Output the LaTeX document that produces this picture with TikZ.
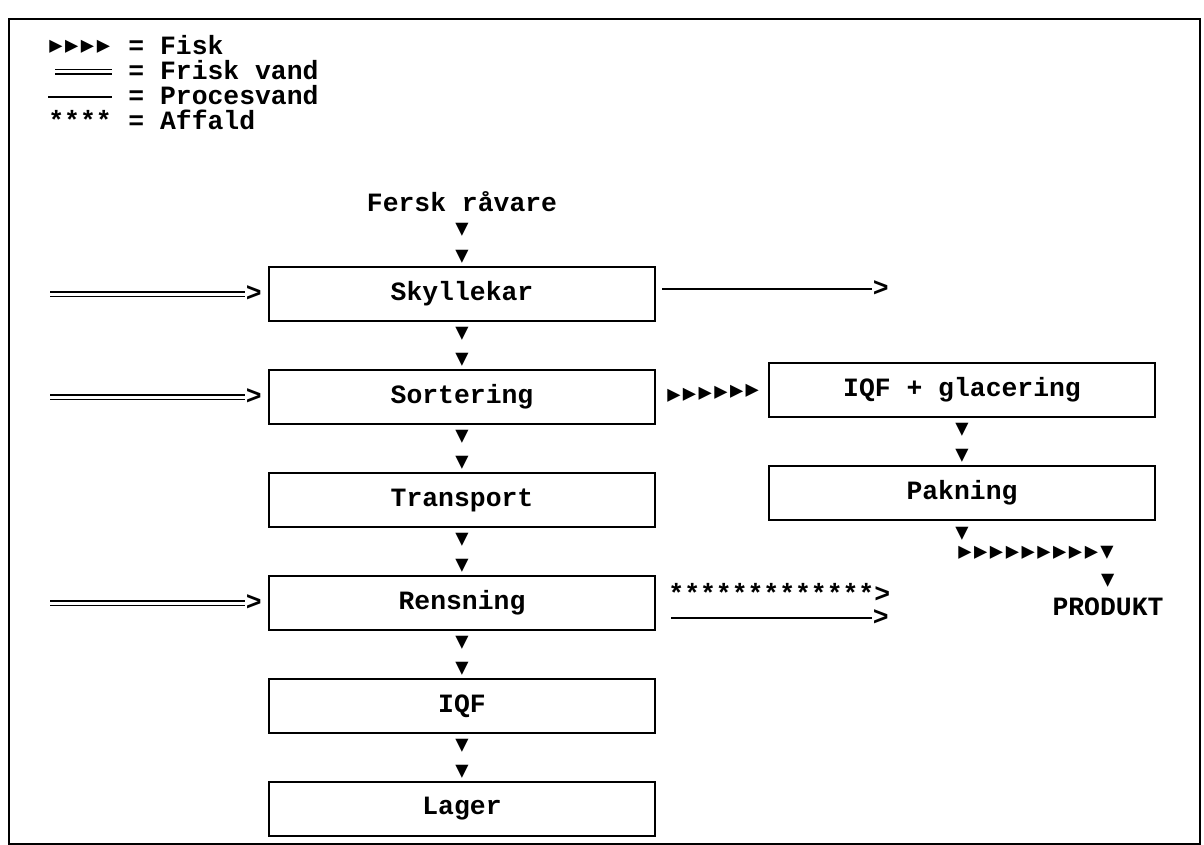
\documentclass[tikz,border=0pt]{standalone}
\usepackage{fontspec}
\setmainfont{Liberation Mono}
\newfontfamily\trifont{DejaVu Sans Mono}
\usetikzlibrary{positioning}

\tikzset{
  proc/.style={draw, line width=1pt, minimum width=193pt, minimum height=27pt,
    inner sep=0pt, font=\fontsize{13.2}{15}\selectfont\bfseries},
  tekst/.style={font=\fontsize{13.2}{15}\selectfont\bfseries, inner sep=0pt},
  fisk/.style={font=\fontsize{11}{12}\trifont, inner sep=0pt},
  frisk/.style={double, line width=0.7pt, double distance=1.5pt},
  proces/.style={line width=1pt}
}

\begin{document}
\begin{tikzpicture}[x=0.5pt, y=-0.5pt]
      \useasboundingbox (0,0) rectangle (1204,845);

      % Ramme
      \draw[line width=1pt] (9,19) rectangle (1200,844);

      % Signaturforklaring
      \foreach \i in {0,...,3}
        \node[fisk] (leg-fisk-\i) at (56+15.8*\i,47) {▶};
      \node[tekst, anchor=base west] (leg-fisk) at (128,55) {= Fisk};
      \coordinate (leg-frisk-a) at (55,72);
      \coordinate (leg-frisk-b) at (112,72);
      \draw[frisk] (leg-frisk-a) -- (leg-frisk-b);
      \node[tekst, anchor=base west] (leg-frisk) at (128,80) {= Frisk vand};
      \coordinate (leg-proc-a) at (48,97);
      \coordinate (leg-proc-b) at (112,97);
      \draw[proces] (leg-proc-a) -- (leg-proc-b);
      \node[tekst, anchor=base west] (leg-proc) at (128,105) {= Procesvand};
      \node[tekst, anchor=base west] (leg-aff-sym) at (48,130) {****};
      \node[tekst, anchor=base west] (leg-aff) at (128,130) {= Affald};

      % Hovedlinje
      \node[tekst] (raavare) at (462,202) {Fersk råvare};
      \node[proc] (sky) at (462,294) {Skyllekar};
      \node[proc, below=23.5pt of sky] (sor) {Sortering};
      \node[proc, below=23.5pt of sor] (tra) {Transport};
      \node[proc, below=23.5pt of tra] (ren) {Rensning};
      \node[proc, below=23.5pt of ren] (iqf) {IQF};
      \node[proc, below=23.5pt of iqf] (lag) {Lager};

      % Sidelinje
      \node[proc] (glac) at (962,390) {IQF + glacering};
      \node[proc, below=23.5pt of glac] (pak) {Pakning};

      % Fisk nedad
      \path (raavare.south) -- (sky.north) node[fisk, pos=.33] (raa-n1) {▼} node[fisk, pos=.82] (raa-n2) {▼};
      \foreach \a/\b in {sky/sor, sor/tra, tra/ren, ren/iqf, iqf/lag, glac/pak}
        \path (\a.south) -- (\b.north) node[fisk, pos=.26] (\a-n1) {▼} node[fisk, pos=.81] (\a-n2) {▼};

      % Fisk til siden
      \foreach \i [evaluate=\i as \p using .16+.14*\i] in {0,...,5}
        \path (sor.east) -- (glac.west) node[fisk, pos=\p] (sor-fisk-\i) {▶};
      \foreach \i in {0,...,8}
        \node[fisk] (pak-fisk-\i) at (965+15.8*\i,553) {▶};
      \node[fisk] (pak-fisk-9) at (1107,553) {▼};
      \path (pak.south) -- (pak.south |- pak-fisk-0.north) node[fisk, midway] (pak-n) {▼};
      \node[tekst] (produkt) at (1108,607) {PRODUKT};
      \path (pak-fisk-9) -- (produkt.north) node[fisk, pos=.55] (prod-n) {▼};

      % Frisk vand ind
      \coordinate (venstre) at (50,0);
      \foreach \b in {sky, sor, ren} {
        \node[tekst, left=3pt of \b] (\b-ind) {>};
        \draw[frisk] (\b-ind.west -| venstre) -- (\b-ind.west);
      }

      % Procesvand og affald ud
      \node[tekst, anchor=east] (sky-ud) at (889,289) {>};
      \draw[proces, shorten <=3pt] (sky.east |- sky-ud) -- (sky-ud.west);
      \node[tekst, right=6pt of ren, yshift=5pt] (ren-affald) {*************>};
      \node[tekst, anchor=east] (ren-ud) at (889,618) {>};
      \draw[proces, shorten <=7.5pt] (ren.east |- ren-ud) -- (ren-ud.west);

    \end{tikzpicture}
\end{document}
